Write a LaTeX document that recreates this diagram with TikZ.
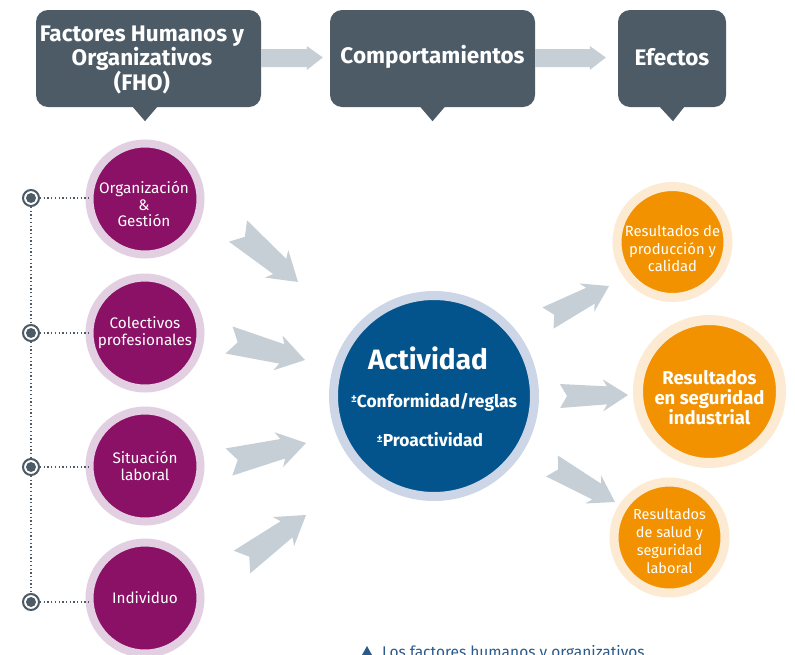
\documentclass[tikz,border=0pt]{standalone}
\usepackage{fontspec}
\setmainfont{Fira Sans}
\usetikzlibrary{calc}
\definecolor{hdr}{HTML}{4D5B66}
\definecolor{arrgray}{HTML}{C7CFD6}
\definecolor{fhopurple}{HTML}{8A1166}
\definecolor{fhoring}{HTML}{E2CFE2}
\definecolor{actblue}{HTML}{03548C}
\definecolor{actring}{HTML}{CCD6E6}
\definecolor{resorange}{HTML}{F39200}
\definecolor{resring}{HTML}{FDEAD2}
\definecolor{notecol}{HTML}{2A5A8C}
\tikzset{
  hdrbox/.style={rectangle, rounded corners=12pt, fill=hdr, inner sep=0pt},
  hdrtext/.style={text=white, font=\bfseries\fontsize{22.5}{22.5}\selectfont, align=center, inner sep=0pt},
  pcirc/.style={circle, fill=fhopurple, draw=fhoring, line width=8pt, minimum size=111pt, inner sep=0pt,
    text=white, align=center, font=\fontsize{15.3}{17}\selectfont},
  ocirc/.style={circle, fill=resorange, draw=resring, line width=9pt, inner sep=0pt,
    text=white, align=center},
  bcirc/.style={circle, fill=actblue, draw=actring, line width=9pt, minimum size=201pt, inner sep=0pt},
  acttext/.style={text=white, inner sep=0pt, font=\bfseries\fontsize{17.4}{19}\selectfont},
  marker/.style={circle, draw=hdr, line width=2pt, fill=white, minimum size=16pt, inner sep=0pt,
    path picture={\fill[hdr] (path picture bounding box.center) circle (5pt);}},
  dotline/.style={draw=hdr, line width=1.3pt, dash pattern=on 1.3pt off 2.4pt},
}
\newcommand\pmsign{{\fontsize{11}{11}\selectfont\raisebox{4.5pt}{±}}}
% #1 tail coordinate, #2 tip coordinate, #3 tail half width, #4 shaft half width,
% #5 head half width, #6 head length, #7 notch depth
\newcommand\fatarrow[7]{%
  \fill[arrgray] let \p1=(#1), \p2=(#2), \n1={atan2(\y2-\y1,\x2-\x1)}, \n2={veclen(\x2-\x1,\y2-\y1)} in
  [shift={(\p1)}, rotate=\n1]
  (0pt,#3) -- ({\n2*1pt-#6},#4) -- ({\n2*1pt-#6-4pt},#5) -- ({\n2*1pt},0pt)
  -- ({\n2*1pt-#6-4pt},-#5) -- ({\n2*1pt-#6},-#4) -- (0pt,-#3) -- (#7,0pt) -- cycle;}
\begin{document}
\begin{tikzpicture}[x=1pt,y=-1pt]
\useasboundingbox (0,0) rectangle (795,654);
\fill[white] (0,0) rectangle (795,654);

% header boxes
\node[hdrbox, minimum width=225pt, minimum height=97pt] (fho) at (148.5,58.5) {};
\node[hdrbox, minimum width=205pt, minimum height=97pt] (comp) at (432.5,58.5) {};
\node[hdrbox, minimum width=108pt, minimum height=97pt] (efe) at (672,58.5) {};
\fill[hdr] ([xshift=-15.5pt]fho.south) -- ([xshift=8.5pt]fho.south) -- ([xshift=-3.5pt,yshift=-14pt]fho.south) -- cycle;
\fill[hdr] ([xshift=-12pt]comp.south) -- ([xshift=12pt]comp.south) -- ([yshift=-14pt]comp.south) -- cycle;
\fill[hdr] ([xshift=-12pt]efe.south) -- ([xshift=12pt]efe.south) -- ([xshift=1pt,yshift=-14pt]efe.south) -- cycle;
\node[hdrtext] (fhot) at (142,60) {Factores Humanos y\\Organizativos\\(FHO)};
\node[hdrtext] (compt) at (432.5,57) {Comportamientos};
\node[hdrtext] (efet) at (672,57) {Efectos};

% header arrows
\fill[arrgray] ([yshift=9.5pt]fho.east) -- ([xshift=-23pt,yshift=9.5pt]comp.west) -- ([xshift=-23pt,yshift=12.5pt]comp.west)
  -- ([xshift=-7pt,yshift=1pt]comp.west) -- ([xshift=-23pt,yshift=-11.5pt]comp.west) -- ([xshift=-23pt,yshift=-8.5pt]comp.west)
  -- ([yshift=-8.5pt]fho.east) -- cycle;
\fill[arrgray] ([yshift=9.5pt]comp.east) -- ([xshift=-28pt,yshift=9.5pt]efe.west) -- ([xshift=-28pt,yshift=12.5pt]efe.west)
  -- ([xshift=-12pt,yshift=1pt]efe.west) -- ([xshift=-28pt,yshift=-11.5pt]efe.west) -- ([xshift=-28pt,yshift=-8.5pt]efe.west)
  -- ([yshift=-8.5pt]comp.east) -- cycle;

% FHO circles
\node[pcirc] (org) at (145,199) {};
\node[text=white, align=center, font=\fontsize{15.3}{16.5}\selectfont, inner sep=0pt] (orgt) at (144,204) {Organización\\\&\\Gestión};
\node[pcirc] (col) at (145,333) {Colectivos\\profesionales};
\node[pcirc] (sit) at (145,466) {Situación\\laboral};
\node[pcirc] (ind) at (145,598) {Individuo};

% dotted connectors and markers
\node[marker] (m1) at (31,198) {};
\node[marker] (m2) at (31,333) {};
\node[marker] (m3) at (31,467) {};
\node[marker] (m4) at (31,602) {};
\draw[dotline] (m1) -- (m2);
\draw[dotline] (m2) -- (m3);
\draw[dotline] (m3) -- (m4);
\draw[dotline] (m1) -- ([xshift=4pt]org.west |- m1);
\draw[dotline] (m2) -- ([xshift=4pt]col.west |- m2);
\draw[dotline] (m3) -- ([xshift=4pt]sit.west |- m3);
\draw[dotline] (m4) -- ([xshift=4pt]ind.west |- m4);

% central activity circle
\node[bcirc] (act) at (434,396) {};
\node[text=white, inner sep=0pt, font=\bfseries\fontsize{28}{30}\selectfont] (actt) at (428,358) {Actividad};
\node[acttext] (conf) at (434,402) {\pmsign Conformidad/reglas};
\node[acttext] (proa) at (430,440) {\pmsign Proactividad};

% result circles
\node[ocirc, minimum size=111pt] (prod) at (672.5,242) {};
\node[text=white, align=center, inner sep=0pt, font=\fontsize{14.8}{17.5}\selectfont] (prodt) at (672.5,249) {Resultados de\\producción y\\calidad};
\node[ocirc, minimum size=143pt, line width=10pt] (segi) at (709.5,391.5) {};
\node[text=white, align=center, inner sep=0pt, font=\bfseries\fontsize{18.5}{20}\selectfont] (segit) at (709.5,398) {Resultados\\en seguridad\\industrial};
\node[ocirc, minimum size=111pt] (salud) at (669.5,537.5) {};
\node[text=white, align=center, inner sep=0pt, font=\fontsize{14.5}{18}\selectfont] (saludt) at (669.5,541) {Resultados\\de salud y\\seguridad\\laboral};

% block arrows
\coordinate (l1a) at (238,231); \coordinate (l1b) at (298,282);
\coordinate (l2a) at (229,340); \coordinate (l2b) at (305,360);
\coordinate (l3a) at (229,462); \coordinate (l3b) at (306,443);
\coordinate (l4a) at (242,562); \coordinate (l4b) at (306,515);
\coordinate (r1a) at (548,318); \coordinate (r1b) at (609,286);
\coordinate (r2a) at (560,396); \coordinate (r2b) at (628,395);
\coordinate (r3a) at (552,466); \coordinate (r3b) at (615,502);
\fatarrow{l1a}{l1b}{14pt}{10pt}{18pt}{24pt}{9pt}
\fatarrow{l2a}{l2b}{14pt}{10pt}{18pt}{24pt}{9pt}
\fatarrow{l3a}{l3b}{14pt}{10pt}{18pt}{24pt}{9pt}
\fatarrow{l4a}{l4b}{14pt}{10pt}{18pt}{24pt}{9pt}
\fatarrow{r1a}{r1b}{12pt}{9pt}{16pt}{21pt}{7pt}
\fatarrow{r2a}{r2b}{12pt}{9pt}{16pt}{21pt}{7pt}
\fatarrow{r3a}{r3b}{12pt}{9pt}{16pt}{21pt}{7pt}

% caption (cut at the lower edge, as in the reference)
\fill[notecol] (362,655) -- (372,655) -- (367,646) -- cycle;
\node[anchor=base west, inner sep=0pt, text=notecol, font=\fontsize{15.5}{18}\selectfont] (note) at (382,657) {Los factores humanos y organizativos};
\end{tikzpicture}
\end{document}
